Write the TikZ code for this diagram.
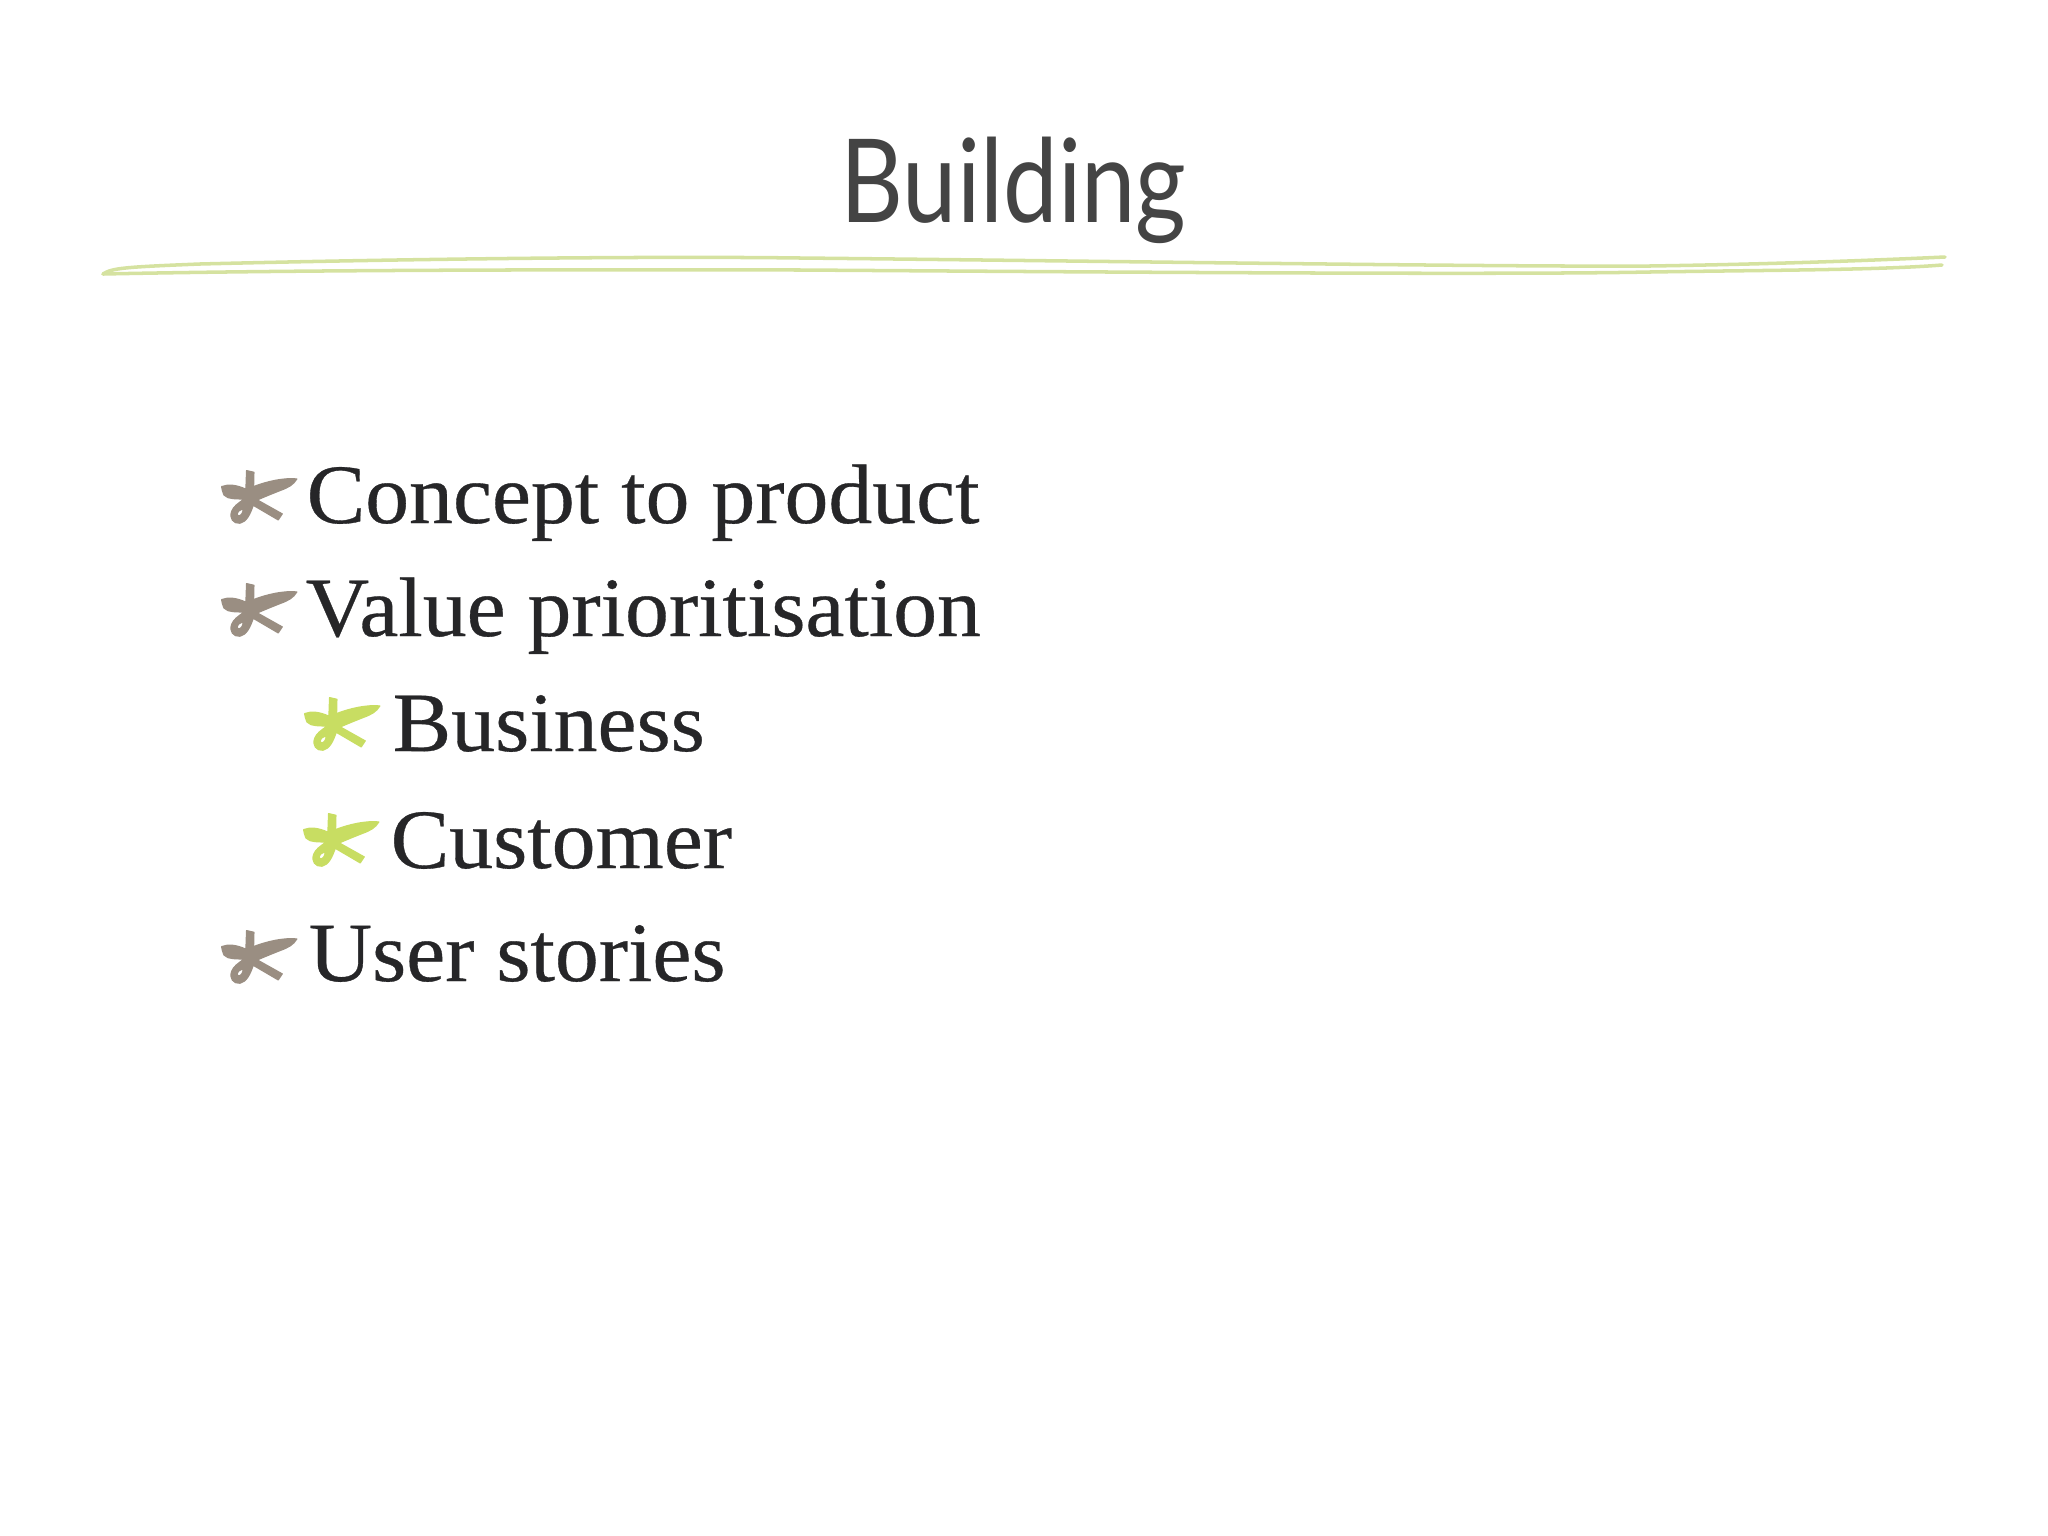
\documentclass[tikz,border=0pt]{standalone}
\usepackage{fontspec}
\usepackage{xcolor}
\setmainfont[FakeStretch=1.04, FakeBold=0.4]{Liberation Serif}
\newfontfamily\titlefont[FakeStretch=0.84]{Lato}
\definecolor{bodyink}{RGB}{38,38,40}
\definecolor{titleink}{RGB}{68,68,68}
\definecolor{rulegreen}{RGB}{213,226,160}
\definecolor{snipgrey}{RGB}{154,142,130}
\definecolor{snipgreen}{RGB}{200,221,98}
\tikzset{
  itemtext/.style={anchor=base west, inner sep=0pt, text=bodyink, font=\fontsize{24}{24}\selectfont},
  subtext/.style={itemtext},
  titletext/.style={anchor=base west, inner sep=0pt, text=titleink, font=\titlefont\fontsize{33}{33}\selectfont},
  ruleline/.style={draw=rulegreen, line width=1pt, line cap=round},
  snip/.pic={
    \filldraw[pic actions, even odd rule, line width=0.35pt, line join=round, x=0.00333cm, y=0.00333cm]
      (65,-140) .. controls (85,-132) and (110,-135) .. (138,-148)
      -- (140,-92) -- (162,-97) -- (161,-140)
      .. controls (200,-125) and (250,-113) .. (291,-117)
      .. controls (280,-135) and (265,-143) .. (240,-152)
      .. controls (220,-160) and (195,-170) .. (172,-180)
      -- (247,-222) -- (235,-240) -- (160,-196)
      .. controls (150,-225) and (140,-245) .. (120,-250)
      .. controls (100,-252) and (88,-235) .. (95,-215)
      .. controls (100,-200) and (115,-190) .. (132,-178)
      .. controls (110,-175) and (85,-180) .. (72,-165)
      .. controls (68,-155) and (66,-148) .. (65,-140) -- cycle
      (113,-228) .. controls (108,-215) and (120,-210) .. (130,-207)
      .. controls (130,-220) and (122,-230) .. (113,-228) -- cycle;
  }
}
\begin{document}
\begin{tikzpicture}[x=0.01cm, y=0.01cm]
  \useasboundingbox (0,0) rectangle (2048,-1536);
  % Rule under the title
  \draw[ruleline] (103,-274) .. controls (112,-268) and (125,-267) .. (200,-264)
    .. controls (400,-259) and (650,-256) .. (800,-258)
    .. controls (1100,-261) and (1500,-267) .. (1650,-266)
    .. controls (1780,-264) and (1880,-260) .. (1945,-257);
  \draw[ruleline] (103,-274) .. controls (200,-272) and (400,-269) .. (800,-270)
    .. controls (1100,-272) and (1500,-275) .. (1650,-272)
    .. controls (1780,-270) and (1880,-270) .. (1942,-265);

  % Title
  \node[titletext] (title) at (840, -222) {Building};

  % Items
  \node[itemtext] (concept) at (306, -523) {Concept to product};
  \node[itemtext] (value) at (305, -636) {Value prioritisation};
  \node[subtext] (business) at (392, -751) {Business};
  \node[subtext] (customer) at (390, -868) {Customer};
  \node[itemtext] (stories) at (308, -981) {User stories};

  % Bullets
  \pic[fill=snipgrey, draw=snipgrey] at (200, -440) {snip};
  \pic[fill=snipgrey, draw=snipgrey] at (200, -553) {snip};
  \pic[fill=snipgreen, draw=snipgreen] at (283, -667) {snip};
  \pic[fill=snipgreen, draw=snipgreen] at (282, -783) {snip};
  \pic[fill=snipgrey, draw=snipgrey] at (200, -900) {snip};
\end{tikzpicture}
\end{document}
